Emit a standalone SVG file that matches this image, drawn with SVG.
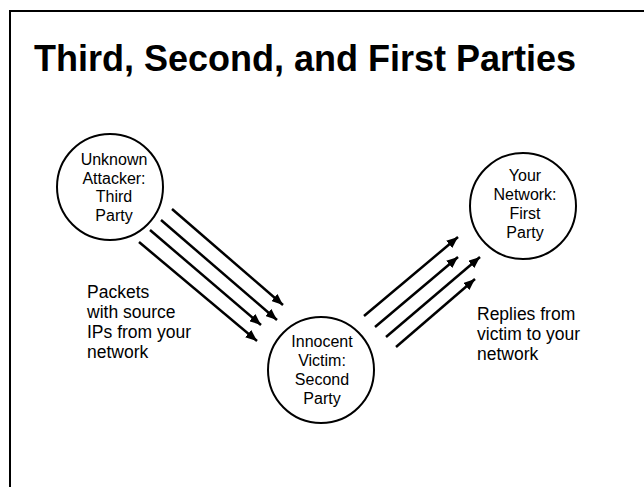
<svg xmlns="http://www.w3.org/2000/svg" width="644" height="487" viewBox="0 0 644 487">
<defs>
<marker id="ah" markerWidth="4.6" markerHeight="3.8" refX="4.6" refY="1.9" orient="auto" markerUnits="strokeWidth">
<path d="M0,0 L4.6,1.9 L0,3.8 Z" fill="#000"/>
</marker>
<style>
.node{fill:#fff;stroke:#000;stroke-width:2}
.nt{font-family:"Liberation Sans",Arial,sans-serif;font-size:16px;fill:#000;text-anchor:middle}
.lbl{font-family:"Liberation Sans",Arial,sans-serif;font-size:17.5px;fill:#000}
.title{font-family:"Liberation Sans",Arial,sans-serif;font-size:36px;font-weight:bold;fill:#000}
.arr{stroke:#000;stroke-width:2.5;fill:none;marker-end:url(#ah)}
</style>
</defs>
<rect width="644" height="487" fill="#fff"/>
<path d="M10,487 V11 H644" fill="none" stroke="#000" stroke-width="2"/>
<text class="title" x="34" y="71">Third, Second, and First Parties</text>
<g id="connectors">
<line class="arr" x1="172" y1="209" x2="283" y2="305"/>
<line class="arr" x1="161" y1="220" x2="277" y2="320"/>
<line class="arr" x1="150" y1="230" x2="261" y2="325"/>
<line class="arr" x1="139" y1="242" x2="257" y2="341"/>
<line class="arr" x1="364" y1="316" x2="458" y2="237"/>
<line class="arr" x1="375" y1="327" x2="458" y2="257"/>
<line class="arr" x1="386" y1="337" x2="480" y2="257"/>
<line class="arr" x1="396" y1="347" x2="475" y2="279"/>
</g>
<g id="third-party">
<circle class="node" cx="110" cy="187" r="53"/>
<text class="nt" x="114" y="165">Unknown</text>
<text class="nt" x="114" y="183.5">Attacker:</text>
<text class="nt" x="114" y="202">Third</text>
<text class="nt" x="114" y="220.5">Party</text>
</g>
<g id="second-party">
<circle class="node" cx="321" cy="370" r="53"/>
<text class="nt" x="322" y="347">Innocent</text>
<text class="nt" x="322" y="366">Victim:</text>
<text class="nt" x="322" y="385">Second</text>
<text class="nt" x="322" y="403.5">Party</text>
</g>
<g id="first-party">
<circle class="node" cx="523" cy="206" r="53"/>
<text class="nt" x="525" y="181">Your</text>
<text class="nt" x="525" y="200">Network:</text>
<text class="nt" x="525" y="219">First</text>
<text class="nt" x="525" y="238">Party</text>
</g>
<g id="labels">
<text class="lbl" x="87" y="298">Packets</text>
<text class="lbl" x="87" y="318">with source</text>
<text class="lbl" x="87" y="338">IPs from your</text>
<text class="lbl" x="87" y="358">network</text>
<text class="lbl" x="477" y="320">Replies from</text>
<text class="lbl" x="477" y="340">victim to your</text>
<text class="lbl" x="477" y="360">network</text>
</g>
</svg>
